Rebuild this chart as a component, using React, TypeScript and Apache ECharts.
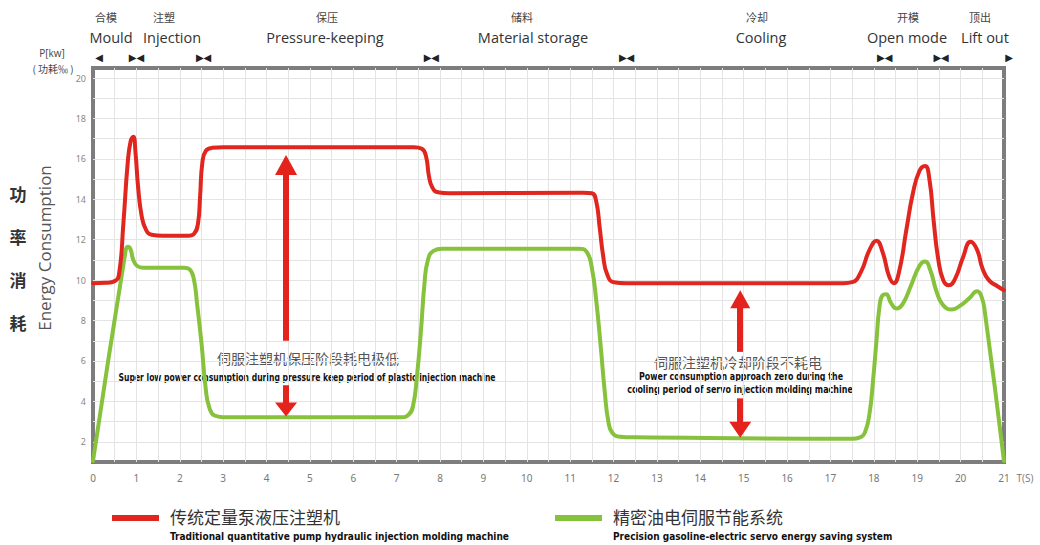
import React, { useEffect, useRef } from "react";
import * as echarts from "echarts";

// Power draw over one moulding cycle, [time (s), power] pairs
const traditionalCurve: [number, number][] = [
  [0, 9.85], [0.3, 9.87], [0.5, 9.95], [0.6, 10.3], [0.7, 12.8], [0.8, 15.8], [0.87, 16.9],
  [0.93, 17.1], [0.98, 16.3], [1.04, 14.6], [1.12, 13.2], [1.22, 12.5], [1.35, 12.25],
  [1.6, 12.2], [2.2, 12.2], [2.33, 12.3], [2.42, 12.8], [2.47, 14.2], [2.52, 15.8],
  [2.6, 16.4], [2.75, 16.55], [3.0, 16.58], [7.4, 16.58], [7.58, 16.5], [7.68, 16.1],
  [7.74, 15.2], [7.82, 14.6], [7.95, 14.35], [8.2, 14.3], [11.3, 14.33], [11.5, 14.3],
  [11.6, 13.9], [11.68, 12.6], [11.76, 11.2], [11.85, 10.3], [12.0, 9.9], [12.3, 9.85],
  [17.3, 9.85], [17.5, 9.9], [17.7, 10.4], [17.9, 11.5], [18.06, 11.95], [18.2, 11.4],
  [18.35, 10.2], [18.46, 9.85], [18.58, 10.4], [18.75, 12.5], [18.9, 14.3], [19.05, 15.4],
  [19.18, 15.65], [19.28, 15.0], [19.38, 12.9], [19.48, 11.1], [19.6, 10.0], [19.73, 9.75],
  [19.88, 10.1], [20.05, 11.1], [20.23, 11.9], [20.38, 11.5], [20.5, 10.6], [20.65, 10.0],
  [20.85, 9.7], [21, 9.5],
];

const servoCurve: [number, number][] = [
  [0, 1.05], [0.74, 11.3], [0.8, 11.65], [0.86, 11.55], [0.93, 11.0], [1.02, 10.7],
  [1.15, 10.62], [2.1, 10.62], [2.22, 10.55], [2.32, 10.1], [2.4, 8.8], [2.5, 6.9],
  [2.6, 4.6], [2.68, 3.7], [2.8, 3.3], [3.0, 3.22], [7.1, 3.22], [7.28, 3.35], [7.38, 3.8],
  [7.47, 5.3], [7.56, 7.5], [7.64, 9.8], [7.72, 11.0], [7.85, 11.45], [8.05, 11.55],
  [11.2, 11.55], [11.38, 11.4], [11.5, 10.6], [11.6, 9.0], [11.7, 6.8], [11.8, 4.4],
  [11.88, 3.0], [11.97, 2.45], [12.15, 2.25], [12.5, 2.22], [17.5, 2.15], [17.68, 2.22],
  [17.8, 2.5], [17.9, 3.4], [17.98, 5.0], [18.06, 7.0], [18.13, 8.7], [18.2, 9.25],
  [18.28, 9.3], [18.4, 8.85], [18.52, 8.6], [18.66, 8.8], [18.85, 9.7], [19.05, 10.7],
  [19.18, 10.92], [19.3, 10.5], [19.45, 9.4], [19.6, 8.75], [19.8, 8.55], [20.0, 8.75],
  [20.2, 9.1], [20.38, 9.45], [20.48, 9.2], [20.56, 8.4], [21, 1.05],
];

// Cycle phases
const phaseNamesZh = ["合模", "注塑", "保压", "储料", "冷却", "开模", "顶出"];
const phaseNamesEn = ["Mould", "Injection", "Pressure-keeping", "Material storage", "Cooling", "Open mode", "Lift out"];
const phaseBoundaries = [1, 2.55, 7.8, 12.3, 18.25, 19.55];

// Vertical double arrows: [time, tip top, gap top, gap bottom, tip bottom]
const pressureArrow = [4.45, 16.2, 7.0, 4.8, 3.25];
const coolingArrow = [14.92, 9.5, 6.45, 4.15, 2.2];

const seriesNames = ["传统定量泵液压注塑机", "精密油电伺服节能系统"];
const seriesNotes = [
  "Traditional quantitative pump hydraulic injection molding machine",
  "Precision gasoline-electric servo energy saving system",
];

const RED = "#e0261f";
const GREEN = "#86c23c";

const GRID_LEFT = 93;
const GRID_RIGHT_X = 1004;
const T_MAX = 21;
const toPx = (t: number) => GRID_LEFT + (t * (GRID_RIGHT_X - GRID_LEFT)) / T_MAX;

const CJK = '"Noto Sans CJK SC", sans-serif';
const LATIN = '"Open Sans", "Noto Sans", sans-serif';
const NARROW = '"Liberation Sans Narrow", "DejaVu Sans Condensed", "Liberation Sans", sans-serif';

function text(x: number, y: number, s: string, style: any, extra: any = {}) {
  return {
    type: "text",
    x,
    y,
    silent: true,
    ...extra,
    style: {
      text: s,
      align: "center",
      verticalAlign: "middle",
      textAlign: "center",
      textVerticalAlign: "middle",
      ...style,
    },
  };
}

function arrowLines(a: number[], headTop: number[], headBottom: number[]) {
  const [t, top, gapTop, gapBottom, bottom] = a;
  const upOff = headTop[1] / 2 / 20.2;
  const downOff = headBottom[1] / 2 / 20.2;
  return [
    [
      { coord: [t, top - upOff], symbol: "triangle", symbolSize: headTop },
      { coord: [t, gapTop], symbol: "none" },
    ],
    [
      { coord: [t, gapBottom], symbol: "none" },
      { coord: [t, bottom + downOff], symbol: "triangle", symbolSize: headBottom },
    ],
  ];
}

export default function App() {
  const ref = useRef<HTMLDivElement>(null);

  useEffect(() => {
    document.body.style.margin = "0";
    const chart = echarts.init(ref.current!, undefined, { renderer: "svg" });

    const zhX = [106, 164, 327, 522, 757, 908, 980];
    const enX = [111, 172, 325, 533, 761, 907, 985];

    const graphics: any[] = [];
    phaseNamesZh.forEach((s, i) =>
      graphics.push(text(zhX[i], 17, s, { fill: "#444", font: `11px ${CJK}` }))
    );
    phaseNamesEn.forEach((s, i) =>
      graphics.push(text(enX[i], 37, s, { fill: "#333", font: `14.5px ${LATIN}` }))
    );
    phaseBoundaries.forEach((t) =>
      graphics.push(text(toPx(t), 57, "▶◀", { fill: "#222", font: `10px "DejaVu Sans"` }))
    );
    graphics.push(text(99, 57, "◀", { fill: "#222", font: `10px "DejaVu Sans"` }));
    graphics.push(text(1009, 57, "▶", { fill: "#222", font: `10px "DejaVu Sans"` }));

    graphics.push(text(52, 53, "P[kw]", { fill: "#444", font: `10px ${LATIN}` }));
    graphics.push(text(53, 68, "( 功耗‰ )", { fill: "#444", font: `10px ${CJK}` }));

    ["功", "率", "消", "耗"].forEach((s, i) =>
      graphics.push(text(18, 193 + i * 43, s, { fill: "#333", font: `bold 17px ${CJK}` }))
    );
    graphics.push(
      text(44, 248, "Energy Consumption", { fill: "#555", font: `17px ${LATIN}` }, { rotation: Math.PI / 2 })
    );

    graphics.push(text(1025, 478, "T(S)", { fill: "#777", font: `10px ${LATIN}` }));

    // annotation texts
    graphics.push(text(308, 358, "伺服注塑机保压阶段耗电极低", { fill: "#555", font: `14px ${CJK}` }));
    graphics.push(
      text(
        307,
        377,
        "Super low power consumption during pressure keep period of plastic injection machine",
        { fill: "#111", font: `bold 10px ${NARROW}` },
        { scaleX: 0.85 }
      )
    );
    graphics.push(text(738, 362, "伺服注塑机冷却阶段不耗电", { fill: "#555", font: `14px ${CJK}` }));
    graphics.push(
      text(741, 376, "Power consumption approach zero during the", { fill: "#111", font: `bold 10px ${NARROW}` }, { scaleX: 0.88 })
    );
    graphics.push(
      text(740, 389, "cooling period of servo injection molding machine", { fill: "#111", font: `bold 10px ${NARROW}` }, { scaleX: 0.89 })
    );

    // legend
    const legendX = [112, 555];
    const legendColors = [RED, GREEN];
    seriesNames.forEach((s, i) => {
      graphics.push({
        type: "rect",
        silent: true,
        shape: { x: legendX[i], y: 515, width: 47, height: 6 },
        style: { fill: legendColors[i] },
      });
      graphics.push(
        text(legendX[i] + 58, 516, s, { fill: "#333", font: `17px ${CJK}`, align: "left", textAlign: "left" })
      );
      graphics.push(
        text(legendX[i] + 58, 536, seriesNotes[i], {
          fill: "#111",
          font: `bold 10px ${NARROW}`,
          align: "left",
          textAlign: "left",
        })
      );
    });

    chart.setOption({
      animation: false,
      backgroundColor: "#ffffff",
      grid: {
        left: GRID_LEFT,
        right: 1040 - GRID_RIGHT_X,
        top: 68,
        bottom: 83,
        show: true,
        borderColor: "#7d7d7d",
        borderWidth: 4,
        backgroundColor: "#ffffff",
      },
      xAxis: {
        type: "value",
        min: 0,
        max: T_MAX,
        interval: 0.5,
        axisLine: { show: false },
        axisTick: { show: false },
        axisLabel: {
          color: "#777",
          fontSize: 10,
          fontFamily: "Noto Sans",
          margin: 11,
          formatter: (v: number) => (Number.isInteger(v) ? String(v) : ""),
        },
        splitLine: { show: true, showMinLine: false, showMaxLine: false, lineStyle: { color: "#e4e4e4", width: 1 } },
      },
      yAxis: {
        type: "value",
        min: 1,
        max: 20.5,
        interval: 1,
        axisLine: { show: false },
        axisTick: { show: false },
        axisLabel: {
          color: "#888",
          fontSize: 9,
          fontFamily: "Noto Sans",
          margin: 7,
          formatter: (v: number) => (v % 2 === 0 ? String(v) : ""),
        },
        splitLine: { show: true, showMinLine: false, showMaxLine: false, lineStyle: { color: "#e4e4e4", width: 1 } },
      },
      series: [
        {
          name: seriesNames[1],
          type: "line",
          data: servoCurve,
          smooth: 0.5,
          showSymbol: false,
          silent: true,
          lineStyle: { color: GREEN, width: 4, join: "round", cap: "round" },
          z: 3,
        },
        {
          name: seriesNames[0],
          type: "line",
          data: traditionalCurve,
          smooth: 0.5,
          showSymbol: false,
          silent: true,
          lineStyle: { color: RED, width: 4, join: "round", cap: "round" },
          z: 4,
          markLine: {
            silent: true,
            symbol: ["none", "none"],
            label: { show: false },
            emphasis: { disabled: true },
            lineStyle: { type: "solid", width: 6, color: "#e5231d" },
            data: [
              ...arrowLines(pressureArrow, [22, 20], [22, 14]),
              ...arrowLines(coolingArrow, [20, 18], [22, 16]),
            ],
          },
        },
      ],
      graphic: graphics,
    });

    return () => chart.dispose();
  }, []);

  return <div ref={ref} style={{ width: 1040, height: 545 }} />;
}
